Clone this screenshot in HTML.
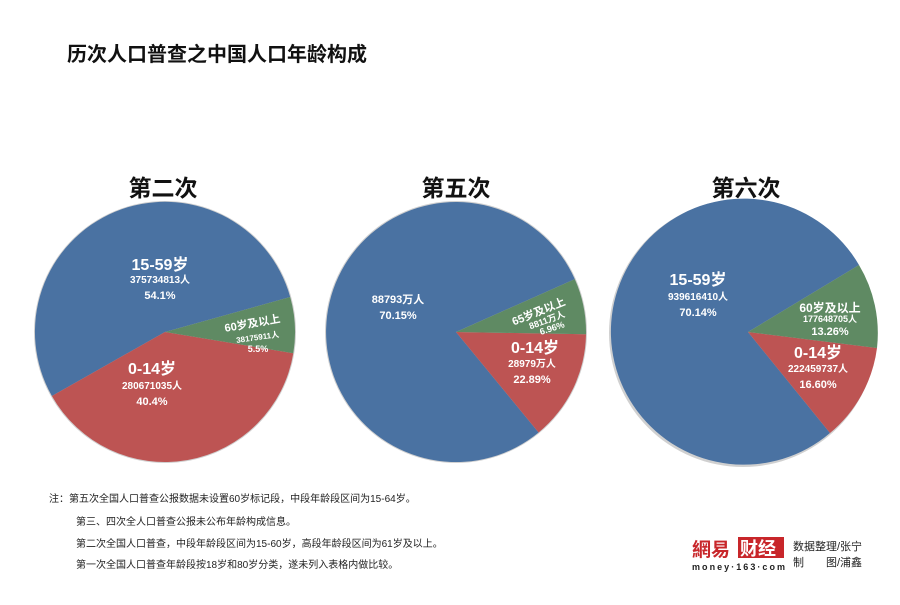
<!DOCTYPE html>
<html><head><meta charset="utf-8"><style>
body{margin:0;background:#fff;}
svg text{font-family:"Liberation Sans","Noto Sans CJK SC",sans-serif;}
</style></head><body>
<svg width="900" height="600" viewBox="0 0 900 600" xmlns="http://www.w3.org/2000/svg">
<rect width="900" height="600" fill="#fff"/>
<text x="67" y="61" font-size="20" font-weight="bold" fill="#111">历次人口普查之中国人口年龄构成</text>

<g id="p1">
<text x="163" y="196" font-size="23" font-weight="bold" text-anchor="middle" fill="#111">第二次</text>
<circle cx="165" cy="332" r="131" fill="#d0d0d0"/>
<path d="M165 332 L290.2 297.0 A130 130 0 1 0 51.9 396.0 Z" fill="#4a72a2"/>
<path d="M165 332 L51.9 396.0 A130 130 0 0 0 293.3 353.2 Z" fill="#bd5453"/>
<path d="M165 332 L293.3 353.2 A130 130 0 0 0 290.2 297.0 Z" fill="#5f8a63"/>
<g fill="#fff" font-weight="bold" text-anchor="middle">
<text x="160" y="270" font-size="16">15-59岁</text>
<text x="160" y="283" font-size="10">375734813人</text>
<text x="160" y="299" font-size="11">54.1%</text>
<text x="152" y="374" font-size="16">0-14岁</text>
<text x="152" y="389" font-size="10">280671035人</text>
<text x="152" y="405" font-size="11">40.4%</text>
<text x="253" y="327" font-size="11" transform="rotate(-10 253 327)">60岁及以上</text>
<text x="258" y="340" font-size="8" transform="rotate(-8 258 340)">38175911人</text>
<text x="258" y="342" font-size="9" dy="10">5.5%</text>
</g>
</g>

<g id="p2">
<text x="456" y="196" font-size="23" font-weight="bold" text-anchor="middle" fill="#111">第五次</text>
<circle cx="456" cy="332" r="131" fill="#d0d0d0"/>
<path d="M456 332 L574.8 279.1 A130 130 0 1 0 538.6 432.5 Z" fill="#4a72a2"/>
<path d="M456 332 L538.6 432.5 A130 130 0 0 0 586 334.3 Z" fill="#bd5453"/>
<path d="M456 332 L586 334.3 A130 130 0 0 0 574.8 279.1 Z" fill="#5f8a63"/>
<g fill="#fff" font-weight="bold" text-anchor="middle">
<text x="398" y="303" font-size="11">88793万人</text>
<text x="398" y="319" font-size="11">70.15%</text>
<text x="535" y="353" font-size="16">0-14岁</text>
<text x="532" y="367" font-size="10">28979万人</text>
<text x="532" y="383" font-size="11">22.89%</text>
<text x="540" y="315" font-size="11" transform="rotate(-22 540 315)">65岁及以上</text>
<text x="548" y="323" font-size="9" transform="rotate(-20 548 323)">8811万人</text>
<text x="553" y="331" font-size="9" transform="rotate(-18 553 331)">6.96%</text>
</g>
</g>

<g id="p3">
<text x="746" y="196" font-size="23" font-weight="bold" text-anchor="middle" fill="#111">第六次</text>
<circle cx="743" cy="333" r="134" fill="#d0d0d0"/>
<path d="M748 332 L859 265 A133 133 0 1 0 830 433 Z" fill="#4a72a2"/>
<path d="M748 332 L830 433 A133 133 0 0 0 877 348 Z" fill="#bd5453"/>
<path d="M748 332 L877 348 A133 133 0 0 0 859 265 Z" fill="#5f8a63"/>
<g fill="#fff" font-weight="bold" text-anchor="middle">
<text x="698" y="285" font-size="16">15-59岁</text>
<text x="698" y="300" font-size="10">939616410人</text>
<text x="698" y="316" font-size="11">70.14%</text>
<text x="830" y="312" font-size="12">60岁及以上</text>
<text x="830" y="322" font-size="9">177648705人</text>
<text x="830" y="335" font-size="11">13.26%</text>
<text x="818" y="358" font-size="16">0-14岁</text>
<text x="818" y="372" font-size="10">222459737人</text>
<text x="818" y="388" font-size="11">16.60%</text>
</g>
</g>

<g font-size="10" fill="#222">
<text x="49" y="502">注：第五次全国人口普查公报数据未设置60岁标记段，中段年龄段区间为15-64岁。</text>
<text x="76" y="525">第三、四次全人口普查公报未公布年龄构成信息。</text>
<text x="76" y="547">第二次全国人口普查，中段年龄段区间为15-60岁，高段年龄段区间为61岁及以上。</text>
<text x="76" y="568">第一次全国人口普查年龄段按18岁和80岁分类，遂未列入表格内做比较。</text>
</g>

<text x="692" y="556" font-size="19" font-weight="bold" fill="#c8262a">網易</text>
<rect x="738" y="537" width="46" height="21" fill="#c8262a"/>
<text x="740" y="555" font-size="18" font-weight="bold" fill="#fff">财经</text>
<text x="692" y="570" font-size="9" font-weight="bold" fill="#222" textLength="93">money·163·com</text>
<text x="793" y="550" font-size="11" fill="#222">数据整理/张宁</text>
<text x="793" y="566" font-size="11" fill="#222">制　　图/浦鑫</text>
</svg>
</body></html>
